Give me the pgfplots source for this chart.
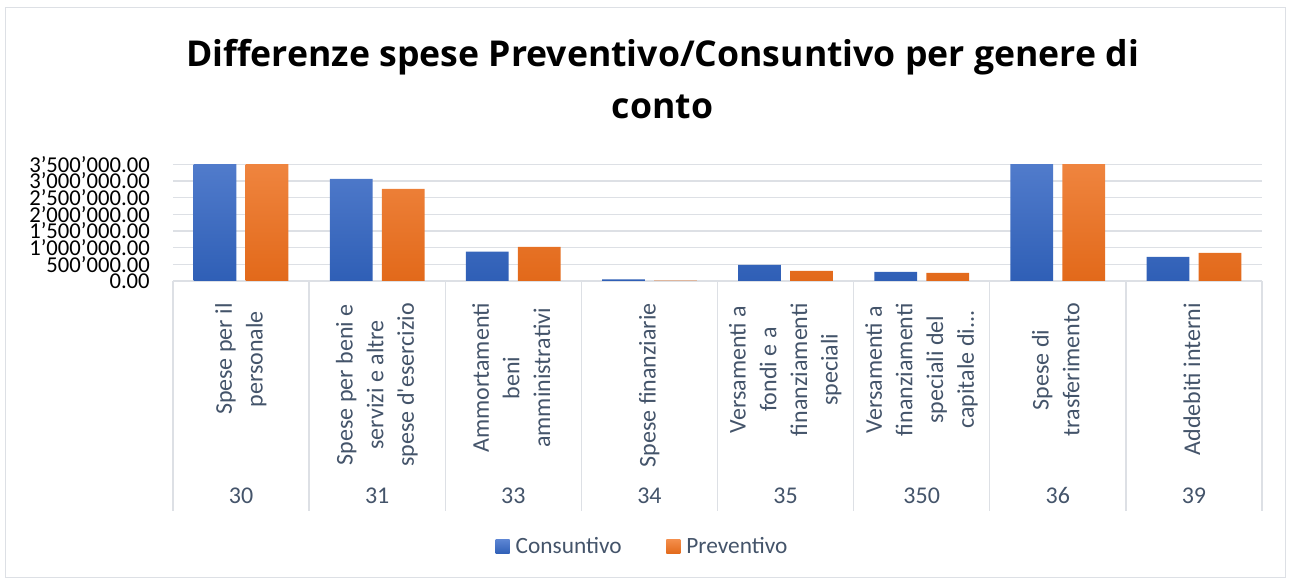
\documentclass[border=0pt]{standalone}
\usepackage{fontspec}
\setmainfont{Carlito}
\newfontfamily\titlefont{Open Sans}
\usepackage{graphicx}
\usepackage{pgfplots}
\pgfplotsset{compat=1.18}
\definecolor{gridgray}{RGB}{221,224,229}
\definecolor{labgray}{HTML}{44546A}
\definecolor{blueT}{HTML}{5B84D2}
\definecolor{blueB}{HTML}{2F5FB6}
\definecolor{orT}{HTML}{F38D4A}
\definecolor{orB}{HTML}{E2691A}
\newcommand\cat[2]{\vbox to 150pt{\hbox to 0pt{\hss\rotatebox{90}{\begin{tabular}{@{}c@{}}#1\end{tabular}}\hss}\vss\hbox to 0pt{\hss#2\hss}}}
\pgfplotsset{sq legend/.style={legend image code/.code={\path[##1, draw=none] (0pt,-5.25pt) rectangle (10.5pt,5.25pt);}}}
\begin{document}
\begin{tikzpicture}
\useasboundingbox (0,0) rectangle (967.5pt,435pt);
\draw[gridgray, line width=0.75pt] (3.75pt,1.5pt) rectangle (963.75pt,429pt);
\node[anchor=base, inner sep=0pt, font=\titlefont\fontsize{26.7}{32}\selectfont\bfseries] at (496.9pt,385pt) {Differenze spese Preventivo/Consuntivo per genere di};
\node[anchor=base, inner sep=0pt, font=\titlefont\fontsize{26.7}{32}\selectfont\bfseries] at (496.9pt,346pt) {conto};
\begin{axis}[
  at={(129.75pt,224.25pt)}, anchor=south west,
  scale only axis, width=816.75pt, height=87.5pt,
  xmin=-0.5, xmax=7.5, ymin=0, ymax=3500000,
  axis line style={draw=none},
  tick pos=left,
  major tick length=0pt,
  tick style={draw=gridgray, line width=1.1pt},
  ymajorgrids, grid style={gridgray, line width=1.1pt},
  ytick={0,500000,1000000,1500000,2000000,2500000,3000000,3500000},
  scaled y ticks=false,
  /pgf/number format/.cd, fixed, fixed zerofill, precision=2, 1000 sep={’}, assume math mode=true,
  /pgfplots/.cd,
  yticklabel={\pgfmathprintnumber{\tick}},
  yticklabel style={anchor=east, inner sep=0pt, xshift=-17.25pt, font=\fontsize{17}{17}\selectfont, text=black},
  xtick={0,1,2,3,4,5,6,7},
  xticklabels={
    {\cat{Spese per il\\personale}{30}},
    {\cat{Spese per beni e\\servizi e altre\\spese d\textquotesingle esercizio}{31}},
    {\cat{Ammortamenti\\beni\\amministrativi}{33}},
    {\cat{Spese finanziarie}{34}},
    {\cat{Versamenti a\\fondi e a\\finanziamenti\\speciali}{35}},
    {\cat{Versamenti a\\finanziamenti\\speciali del\\capitale di...}{350}},
    {\cat{Spese di\\trasferimento}{36}},
    {\cat{Addebiti interni}{39}}},
  xticklabel style={anchor=north, inner sep=0pt, yshift=-16.5pt, font=\fontsize{18}{23}\selectfont, text=labgray},
  extra x ticks={-0.5,0.5,1.5,2.5,3.5,4.5,5.5,6.5,7.5},
  extra x tick style={major tick length=172.3pt, tick align=outside, grid=none, xticklabel={}},
  legend style={at={(0.433,-2.279)}, anchor=center, draw=none, fill=none, legend columns=2,
    font=\fontsize{17.5}{20}\selectfont, text=labgray,
    /tikz/every even column/.append style={column sep=29pt},
    nodes={inner xsep=4.5pt, inner ysep=1pt}},
  legend cell align=left,
]
\addplot[ybar, bar width=0.314, bar shift=-0.191, draw=none, top color=blueT, bottom color=blueB, sq legend]
  coordinates {(0,4300000) (1,3060000) (2,880000) (3,45000) (4,480000) (5,270000) (6,4600000) (7,720000)};
\addlegendentry{Consuntivo}
\addplot[ybar, bar width=0.314, bar shift=0.191, draw=none, top color=orT, bottom color=orB, sq legend]
  coordinates {(0,4300000) (1,2760000) (2,1020000) (3,12000) (4,300000) (5,240000) (6,4600000) (7,840000)};
\addlegendentry{Preventivo}
\end{axis}
\end{tikzpicture}
\end{document}
